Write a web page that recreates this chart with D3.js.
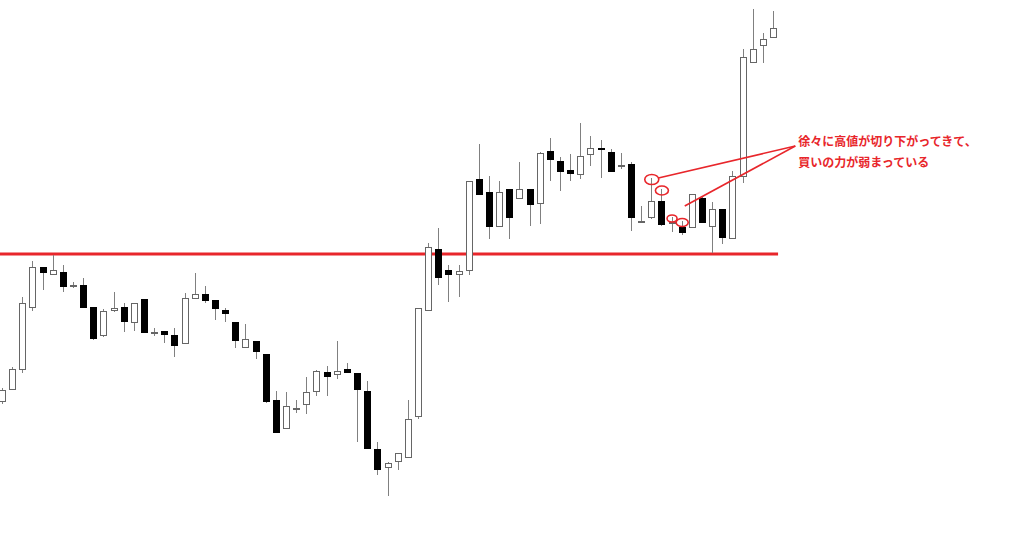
<!DOCTYPE html>
<html>
<head>
<meta charset="utf-8">
<script src="https://cdn.jsdelivr.net/npm/d3@7"></script>
<style>
  html, body { margin: 0; padding: 0; background: #fff; }
  svg { display: block; }
</style>
</head>
<body>
<svg id="chart" width="1024" height="558"></svg>
<script>
// OHLC values (price scale arbitrary, resistance = 110.00)
const opens  = [108.53,108.65,108.85,109.47,109.87,109.80,109.82,109.69,109.69,109.47,109.19,109.44,109.47,109.32,109.55,109.22,109.23,109.19,109.11,109.56,109.60,109.54,109.44,109.32,109.07,109.13,109.00,108.54,108.26,108.46,108.50,108.63,108.82,108.80,108.85,108.81,108.63,108.05,107.87,107.93,107.97,108.38,109.44,110.05,109.84,109.80,109.84,110.75,110.62,110.28,110.65,110.56,110.65,110.51,111.03,110.93,110.84,110.80,111.00,111.06,111.02,110.89,110.90,110.33,110.37,110.53,110.31,110.27,110.27,110.56,110.28,110.45,110.16,110.78,111.92,112.09,112.17];
const highs  = [108.66,108.87,109.57,109.93,109.87,109.99,109.89,109.72,109.76,109.47,109.45,109.62,109.51,109.51,109.55,109.26,109.23,109.26,109.61,109.81,109.68,109.54,109.46,109.32,109.30,109.13,109.00,108.63,108.62,108.54,108.77,108.84,108.88,109.13,108.91,108.81,108.73,108.12,107.92,108.01,108.54,109.46,110.11,110.26,109.89,109.89,110.73,111.10,110.78,110.73,110.65,110.92,110.65,111.02,111.16,110.97,111.00,111.31,111.18,111.14,111.05,111.01,110.92,110.48,110.76,110.65,110.37,110.33,110.60,110.58,110.52,110.45,110.83,112.05,112.45,112.21,112.43];
const lows   = [108.50,108.64,108.81,109.43,109.64,109.80,109.62,109.66,109.47,109.14,109.17,109.42,109.22,109.23,109.22,109.18,109.11,108.97,109.10,109.56,109.51,109.34,109.32,109.06,109.06,108.95,108.51,108.22,108.26,108.41,108.40,108.58,108.58,108.75,108.81,108.12,108.06,107.79,107.58,107.84,107.96,108.35,109.44,109.69,109.52,109.57,109.79,110.60,110.15,110.28,110.15,110.56,110.28,110.30,110.73,110.63,110.73,110.75,110.88,110.76,110.83,110.85,110.23,110.32,110.35,110.28,110.22,110.19,110.27,110.32,110.01,110.10,110.16,110.71,111.92,111.91,112.17];
const closes = [108.64,108.85,109.51,109.87,109.82,109.84,109.68,109.69,109.47,109.16,109.43,109.46,109.33,109.51,109.22,109.22,109.20,109.09,109.56,109.60,109.54,109.46,109.41,109.14,109.15,109.03,108.53,108.22,108.48,108.46,108.62,108.83,108.78,108.83,108.82,108.65,108.06,107.85,107.91,108.01,108.35,109.46,110.07,109.77,109.80,109.83,110.73,110.60,110.28,110.62,110.37,110.65,110.50,111.01,110.95,110.83,110.81,110.98,111.06,111.05,110.83,110.89,110.37,110.33,110.53,110.30,110.32,110.22,110.60,110.32,110.45,110.17,110.78,111.97,112.05,112.15,112.26];

const resistance = 110.00;

// Annotation: circled lower highs and the callout text
const circledCandles = [64, 65, 66, 67];
const calloutLines = ["徐々に高値が切り下がってきて、", "買いの力が弱まっている"];
// pointer lines: [start index, start price] -> callout anchor
const pointerStarts = [[64.7, 110.76], [67.3, 110.48]];
const calloutAnchor = [78.2, 111.08];

const red = "#e8262b";
const wickColor = "#808080";
const outlineColor = "#666666";

const W = 1024, H = 558;
const svg = d3.select("#chart");

const x = d3.scaleLinear().domain([0, opens.length - 1]).range([2, 773]);
const y = d3.scaleLinear().domain([112.54, 106.96]).range([0, 558]);

const candles = opens.map((o, i) => ({ i, o, h: highs[i], l: lows[i], c: closes[i] }));

const px = v => Math.round(v) + 0.5;

// resistance line
svg.append("line")
  .attr("x1", 0).attr("x2", x(76.5))
  .attr("y1", y(resistance)).attr("y2", y(resistance))
  .attr("stroke", red).attr("stroke-width", 3);

const g = svg.append("g");

// wicks
g.selectAll("line.wick").data(candles).join("line")
  .attr("class", "wick")
  .attr("x1", d => px(x(d.i))).attr("x2", d => px(x(d.i)))
  .attr("y1", d => Math.round(y(d.h))).attr("y2", d => Math.round(y(d.l)))
  .attr("stroke", wickColor).attr("stroke-width", 1);

// bodies
g.selectAll("rect.body").data(candles).join("rect")
  .attr("class", "body")
  .attr("x", d => Math.round(x(d.i)) - 2.5)
  .attr("width", 6)
  .attr("y", d => px(y(Math.max(d.o, d.c))))
  .attr("height", d => Math.max(1, Math.round(y(Math.min(d.o, d.c))) - Math.round(y(Math.max(d.o, d.c)))))
  .attr("fill", d => d.c < d.o ? "#000" : "#fff")
  .attr("stroke", d => d.c < d.o ? "#000" : outlineColor)
  .attr("stroke-width", 1);

// red circles on the highs
svg.selectAll("ellipse.mark").data(circledCandles).join("ellipse")
  .attr("class", "mark")
  .attr("cx", i => x(i) + 0.5)
  .attr("cy", i => y(highs[i]) + 1.5)
  .attr("rx", (i, k) => [7, 6.5, 5, 6][k])
  .attr("ry", (i, k) => [5, 4.5, 3.5, 4][k])
  .attr("fill", "none").attr("stroke", red).attr("stroke-width", 1.6);

// pointer lines
svg.selectAll("line.pointer").data(pointerStarts).join("line")
  .attr("class", "pointer")
  .attr("x1", d => x(d[0])).attr("y1", d => y(d[1]))
  .attr("x2", x(calloutAnchor[0])).attr("y2", y(calloutAnchor[1]))
  .attr("stroke", red).attr("stroke-width", 1.6);

// callout text
svg.selectAll("text.callout").data(calloutLines).join("text")
  .attr("class", "callout")
  .attr("x", x(calloutAnchor[0]) + 3)
  .attr("y", (d, k) => y(calloutAnchor[1]) - 0.5 + k * 21)
  .attr("fill", red)
  .attr("font-family", "'Noto Sans CJK JP', 'Noto Sans', sans-serif")
  .attr("font-weight", "bold")
  .attr("font-size", 12)
  .text(d => d);
</script>
</body>
</html>
